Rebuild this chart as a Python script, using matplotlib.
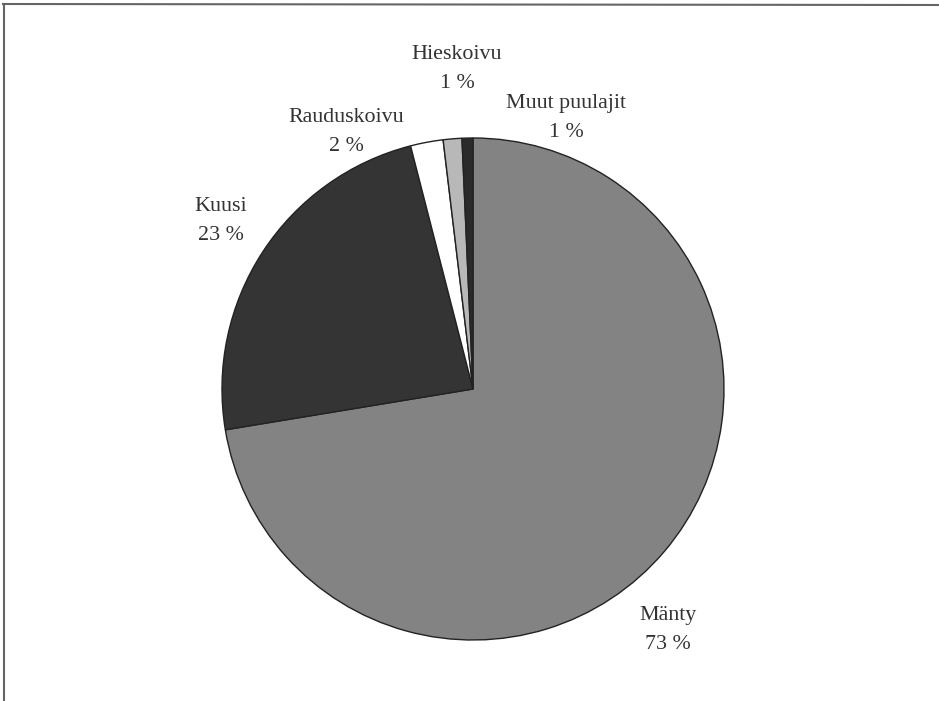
import matplotlib
matplotlib.use("Agg")
import matplotlib.pyplot as plt
from matplotlib.lines import Line2D

# Data (shares; printed labels as in the chart)
species = ["Mänty", "Kuusi", "Rauduskoivu", "Hieskoivu", "Muut puulajit"]
shares = [72.4, 23.6, 2.1, 1.2, 0.7]
pct_labels = ["73 %", "23 %", "2 %", "1 %", "1 %"]

# Styling / layout
colors = ["#838383", "#343434", "#ffffff", "#b8b8b8", "#2a2a2a"]
label_pos_px = [(668, 630), (221, 221), (346, 132), (457, 69), (566, 118)]

W, H = 939, 701
fig = plt.figure(figsize=(W / 100, H / 100), dpi=100)
ax = fig.add_axes([0, 0, 1, 1])

cx, cy, r = 473, H - 389, 251
wedges, _ = ax.pie(shares, colors=colors, startangle=90, counterclock=False,
                   center=(cx, cy), radius=r, frame=True,
                   wedgeprops=dict(edgecolor="#222222", linewidth=1.0))
ax.set_xlim(0, W)
ax.set_ylim(0, H)
ax.set_aspect("equal")
ax.axis("off")

for name, pct, (px, py) in zip(species, pct_labels, label_pos_px):
    ax.text(px, H - py, f"{name}\n{pct}", ha="center", va="center",
            fontsize=15.8, family="Liberation Serif", color="#333333",
            linespacing=1.75)

# frame lines (top and left)
ax.add_line(Line2D([3, W], [H - 4, H - 5], color="#666666", lw=1.5))
ax.add_line(Line2D([4, 4], [H - 4, 0], color="#666666", lw=1.5))

fig.savefig("out.png", dpi=100)
